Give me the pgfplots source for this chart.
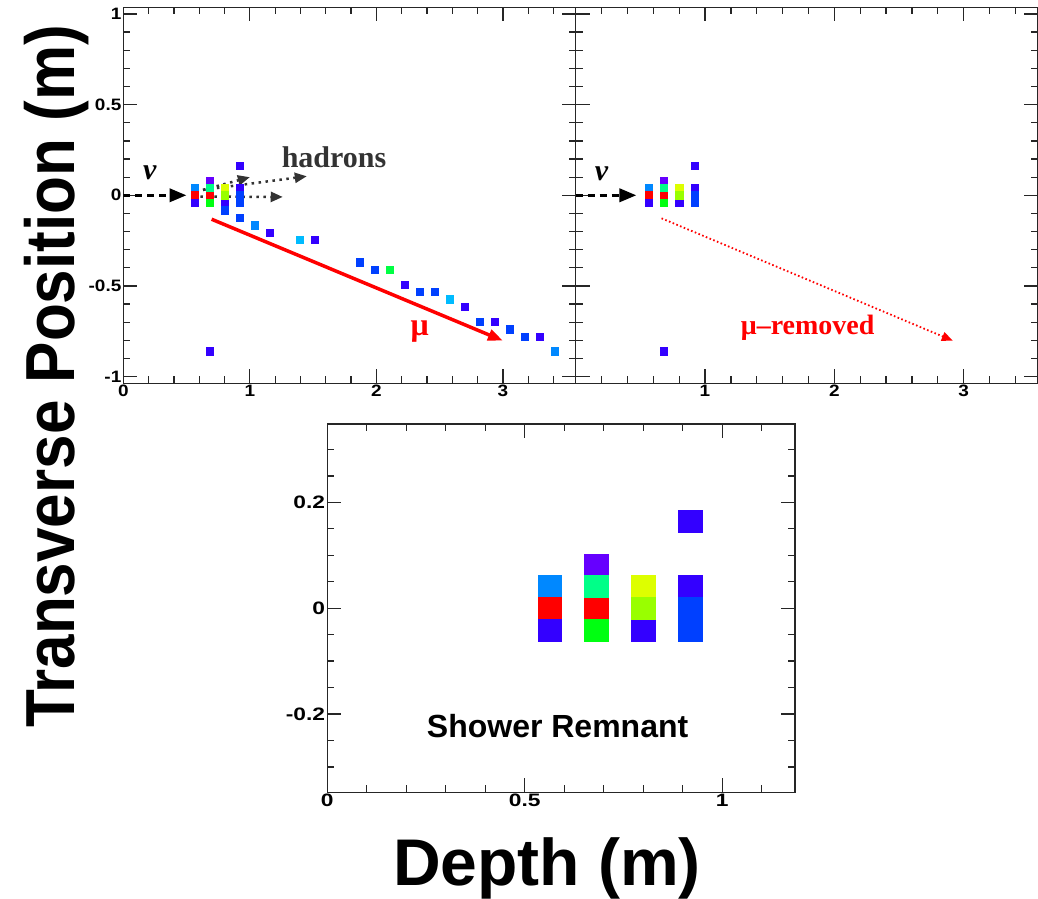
\documentclass[border=0pt]{standalone}
\usepackage{pgfplots}
\pgfplotsset{compat=1.18}
\usepackage{fontspec}
\setmainfont{Liberation Serif}
\setsansfont{Liberation Sans}
\usetikzlibrary{arrows.meta}

% ROOT rainbow palette cells
\definecolor{cLB}{RGB}{0,136,255}
\definecolor{cCy}{RGB}{0,187,255}
\definecolor{cB}{RGB}{0,64,255}
\definecolor{cPB}{RGB}{51,0,255}
\definecolor{cV}{RGB}{102,0,255}
\definecolor{cSG}{RGB}{0,255,136}
\definecolor{cG}{RGB}{0,255,17}
\definecolor{cGr}{RGB}{0,255,68}
\definecolor{cR}{RGB}{255,0,0}
\definecolor{cY}{RGB}{221,255,0}
\definecolor{cYG}{RGB}{153,255,0}
\definecolor{cDk}{RGB}{51,51,51}

\tikzset{
  nuarrow/.style={black, line width=3.5pt, dash pattern=on 7pt off 5pt, -{Triangle[length=17pt,width=13pt]}},
  hadarrow/.style={cDk, line width=2.5pt, dash pattern=on 2.5pt off 4.5pt, -{Triangle[length=12pt,width=10pt]}},
}

\pgfplotsset{
  rootframe/.style={
    scale only axis, anchor=south west,
    tick align=inside, tick pos=both,
    xticklabel pos=lower, yticklabel pos=left,
    major tick length=14pt, minor tick length=7pt,
    tick style={line width=1.3pt, black!85},
    axis line style={line width=1.3pt, black!85},
    ticklabel style={font=\sffamily\bfseries\fontsize{16.5}{18}\selectfont, xscale=1.15, inner sep=1.5pt},
  },
  topframe/.style={
    rootframe, height=376pt,
    xmin=0, xmax=3.575, ymin=-1.037, ymax=1.037,
    xtick={0,1,2,3},
    minor xtick={0.2,0.4,0.6,0.8,1.2,1.4,1.6,1.8,2.2,2.4,2.6,2.8,3.2,3.4},
    ytick={-1,-0.5,0,0.5,1},
    minor ytick={-0.9,-0.8,-0.7,-0.6,-0.4,-0.3,-0.2,-0.1,0.1,0.2,0.3,0.4,0.6,0.7,0.8,0.9},
  },
  cell/.style={only marks, mark=square*, color=#1},
}

\begin{document}
\begin{tikzpicture}[x=1pt,y=1pt]
\path[use as bounding box] (0pt,0pt) rectangle (1038pt,898pt);

% full event: shower + muon track
\begin{axis}[topframe, at={(123.3pt,514.7pt)}, width=452.4pt,
  xticklabels={0,1,2,3}, yticklabels={-1,-0.5,0,0.5,1},
  every axis plot/.append style={mark size=3.7pt}]
  \addplot[cell=cLB] coordinates {(0.563,0.041) (1.037,-0.164) (3.407,-0.861)};
  \addplot[cell=cR] coordinates {(0.563,0) (0.6815,0)};
  \addplot[cell=cPB] coordinates {(0.563,-0.041) (0.800,-0.041) (0.9185,0.164) (0.9185,0.041)
    (1.1555,-0.205) (1.511,-0.246) (2.222,-0.492) (2.696,-0.615) (2.933,-0.697) (3.2885,-0.779) (0.6815,-0.861)};
  \addplot[cell=cV] coordinates {(0.6815,0.082)};
  \addplot[cell=cSG] coordinates {(0.6815,0.041)};
  \addplot[cell=cG] coordinates {(0.6815,-0.041)};
  \addplot[cell=cY] coordinates {(0.800,0.041)};
  \addplot[cell=cYG] coordinates {(0.800,0)};
  \addplot[cell=cB] coordinates {(0.800,-0.082) (0.9185,0) (0.9185,-0.041) (0.9185,-0.123)
    (1.8665,-0.369) (1.985,-0.41) (2.3405,-0.533) (2.459,-0.533) (2.8145,-0.697) (3.0515,-0.738) (3.170,-0.779)};
  \addplot[cell=cCy] coordinates {(1.3925,-0.246) (2.5775,-0.574)};
  \addplot[cell=cGr] coordinates {(2.1035,-0.41)};
  \draw[nuarrow] (axis cs:0,0) -- (axis cs:0.5,0);
  \draw[hadarrow] (axis cs:0.63,0.03) -- (axis cs:1.0,0.10);
  \draw[hadarrow] (axis cs:0.63,0.03) -- (axis cs:1.45,0.105);
  \draw[hadarrow] (axis cs:0.61,-0.007) -- (axis cs:1.26,-0.009);
  \draw[red, line width=3.5pt, -{Triangle[length=15pt,width=11pt]}]
    (axis cs:0.698,-0.132) -- (axis cs:3.0,-0.802);
  \node[font=\bfseries\itshape\fontsize{30}{32}\selectfont] at (axis cs:0.21,0.123) {ν};
  \node[cDk, font=\bfseries\fontsize{30}{32}\selectfont] at (axis cs:1.665,0.212) {hadrons};
  \node[red, font=\bfseries\fontsize{32}{34}\selectfont] at (axis cs:2.343,-0.752) {μ};
\end{axis}

% muon removed
\begin{axis}[topframe, at={(575.7pt,514.7pt)}, width=462.3pt,
  xticklabels={,1,2,3}, yticklabels={},
  every axis plot/.append style={mark size=3.7pt}]
  \addplot[cell=cLB] coordinates {(0.563,0.041)};
  \addplot[cell=cR] coordinates {(0.563,0) (0.6815,0)};
  \addplot[cell=cPB] coordinates {(0.563,-0.041) (0.800,-0.041) (0.9185,0.164) (0.9185,0.041) (0.6815,-0.861)};
  \addplot[cell=cV] coordinates {(0.6815,0.082)};
  \addplot[cell=cSG] coordinates {(0.6815,0.041)};
  \addplot[cell=cG] coordinates {(0.6815,-0.041)};
  \addplot[cell=cY] coordinates {(0.800,0.041)};
  \addplot[cell=cYG] coordinates {(0.800,0)};
  \addplot[cell=cB] coordinates {(0.9185,0) (0.9185,-0.041)};
  \draw[nuarrow] (axis cs:0,0) -- (axis cs:0.47,0);
  \draw[red, line width=1.8pt, dash pattern=on 1.6pt off 2.4pt, -{Triangle[length=11pt,width=9pt]}]
    (axis cs:0.664,-0.127) -- (axis cs:2.916,-0.802);
  \node[font=\bfseries\itshape\fontsize{30}{32}\selectfont] at (axis cs:0.20,0.118) {ν};
  \node[red, font=\bfseries\fontsize{28}{30}\selectfont] at (axis cs:1.794,-0.732) {μ--removed};
\end{axis}

% shower remnant
\begin{axis}[rootframe, at={(327.3pt,105.7pt)}, width=467.7pt, height=368.3pt,
  xmin=0, xmax=1.184, ymin=-0.348, ymax=0.348,
  ticklabel style={font=\sffamily\bfseries\fontsize{18}{20}\selectfont, xscale=1.1},
  xtick={0,0.5,1}, xticklabels={0,0.5,1},
  minor xtick={0.1,0.2,0.3,0.4,0.6,0.7,0.8,0.9,1.1},
  ytick={-0.2,0,0.2}, yticklabels={-0.2,0,0.2},
  minor ytick={-0.3,-0.25,-0.15,-0.1,-0.05,0.05,0.1,0.15,0.25,0.3},
  every axis plot/.append style={mark size=10.85pt, mark options={xscale=1.1}}]
  \addplot[cell=cLB] coordinates {(0.563,0.041)};
  \addplot[cell=cR] coordinates {(0.563,0) (0.6815,0)};
  \addplot[cell=cPB] coordinates {(0.563,-0.041) (0.800,-0.041) (0.9185,0.164) (0.9185,0.041)};
  \addplot[cell=cV] coordinates {(0.6815,0.082)};
  \addplot[cell=cSG] coordinates {(0.6815,0.041)};
  \addplot[cell=cG] coordinates {(0.6815,-0.041)};
  \addplot[cell=cY] coordinates {(0.800,0.041)};
  \addplot[cell=cYG] coordinates {(0.800,0)};
  \addplot[cell=cB] coordinates {(0.9185,0) (0.9185,-0.041)};
  \node[font=\sffamily\bfseries\fontsize{32}{34}\selectfont] at (axis cs:0.583,-0.222) {Shower Remnant};
\end{axis}

\node[rotate=90, yscale=1.12, anchor=base, font=\sffamily\bfseries\fontsize{62}{70}\selectfont]
  at (74pt,521.5pt) {Transverse Position (m)};
\node[anchor=base, font=\sffamily\bfseries\fontsize{66}{72}\selectfont]
  at (547pt,13pt) {Depth (m)};
\end{tikzpicture}
\end{document}
